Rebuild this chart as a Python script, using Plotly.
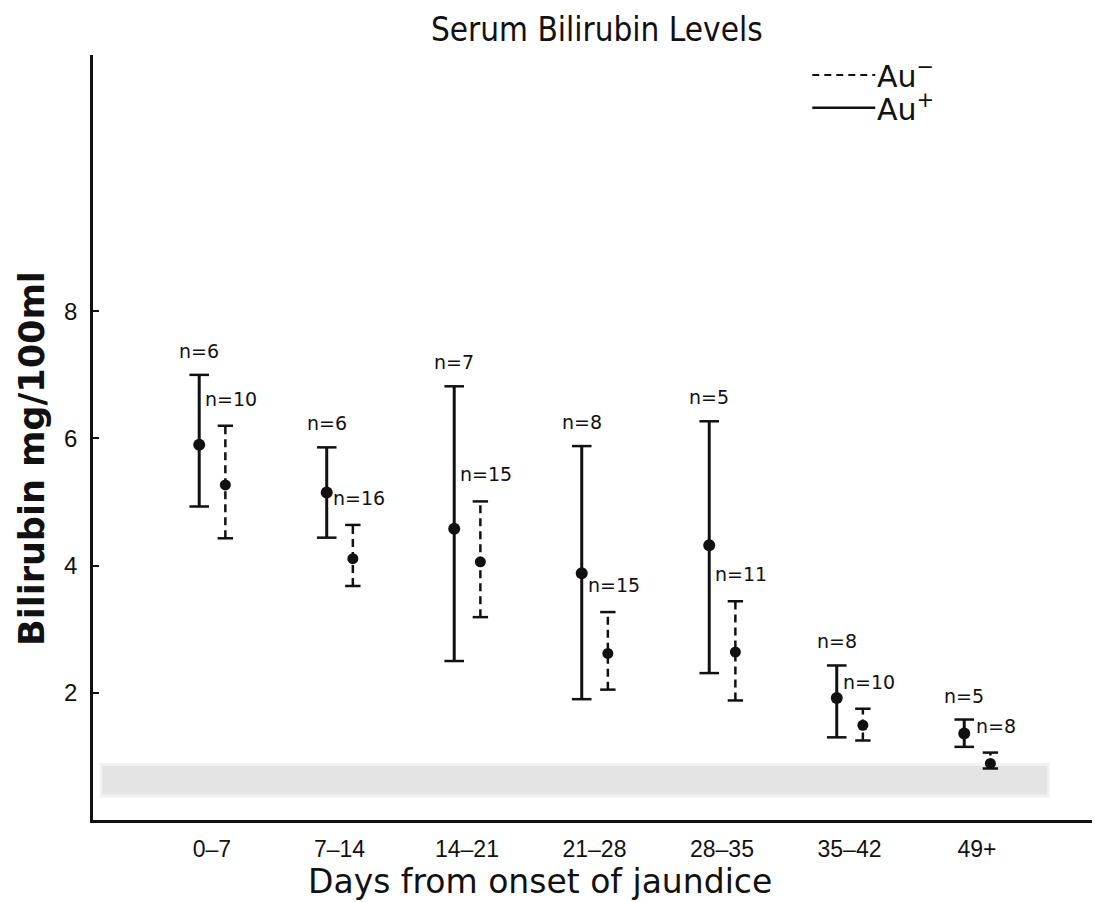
import plotly.graph_objects as go

# ---- data ----
categories = ["0–7", "7–14", "14–21", "21–28", "28–35", "35–42", "49+"]

au_pos_mean = [5.90, 5.15, 4.58, 3.88, 4.32, 1.92, 1.36]
au_pos_hi   = [7.00, 5.86, 6.82, 5.88, 6.27, 2.43, 1.58]
au_pos_lo   = [4.93, 4.44, 2.50, 1.90, 2.31, 1.30, 1.15]
au_pos_n    = [6, 6, 7, 8, 5, 8, 5]

au_neg_mean = [5.27, 4.11, 4.06, 2.62, 2.64, 1.49, 0.89]
au_neg_hi   = [6.20, 4.64, 5.01, 3.27, 3.44, 1.75, 1.06]
au_neg_lo   = [4.43, 3.68, 3.19, 2.05, 1.88, 1.25, 0.81]
au_neg_n    = [10, 16, 15, 15, 11, 10, 8]

normal_range = [0.40, 0.85]
y_ticks = [2, 4, 6, 8]

INK = "#111111"
POS_OFF = -0.10
NEG_OFF = 0.105
SANS = "DejaVu Sans, Liberation Sans, sans-serif"
HELV = "Liberation Sans, Arial, sans-serif"

idx = list(range(len(categories)))
x_pos = [i + POS_OFF for i in idx]
x_neg = [i + NEG_OFF for i in idx]


def seg(xs, lo, hi):
    X, Y = [], []
    for x, a, b in zip(xs, lo, hi):
        X += [x, x, None]
        Y += [a, b, None]
    return X, Y


fig = go.Figure()

# normal range band
fig.add_shape(type="rect", xref="x", yref="y", x0=-0.88, x1=6.57,
              y0=normal_range[0] - 0.05, y1=normal_range[1] + 0.05,
              fillcolor="#f1f1f1", line_width=0, layer="below")
fig.add_shape(type="rect", xref="x", yref="y", x0=-0.86, x1=6.55,
              y0=normal_range[0], y1=normal_range[1],
              fillcolor="#e4e4e4", line_width=0, layer="below")

# Au+ (solid)
X, Y = seg(x_pos, au_pos_lo, au_pos_hi)
fig.add_trace(go.Scatter(x=X, y=Y, mode="lines",
                         line=dict(color=INK, width=3), hoverinfo="skip"))
fig.add_trace(go.Scatter(x=x_pos + x_pos, y=au_pos_hi + au_pos_lo, mode="markers",
                         marker=dict(symbol="line-ew", size=14,
                                     line=dict(color=INK, width=2.5)),
                         hoverinfo="skip"))
fig.add_trace(go.Scatter(x=x_pos, y=au_pos_mean, mode="markers",
                         marker=dict(symbol="circle", size=12, color=INK)))

# Au- (dashed)
X, Y = seg(x_neg, au_neg_lo, au_neg_hi)
fig.add_trace(go.Scatter(x=X, y=Y, mode="lines",
                         line=dict(color=INK, width=2.5, dash="8px,5px"),
                         hoverinfo="skip"))
fig.add_trace(go.Scatter(x=x_neg + x_neg, y=au_neg_hi + au_neg_lo, mode="markers",
                         marker=dict(symbol="line-ew", size=11,
                                     line=dict(color=INK, width=2.5)),
                         hoverinfo="skip"))
fig.add_trace(go.Scatter(x=x_neg, y=au_neg_mean, mode="markers",
                         marker=dict(symbol="circle", size=11, color=INK)))

# n labels
NFONT = dict(family=SANS, size=19, color=INK)
for x, y, n in zip(x_pos, au_pos_hi, au_pos_n):
    fig.add_annotation(x=x, y=y, text=f"n={n}", showarrow=False,
                       xanchor="center", yanchor="bottom", yshift=11, font=NFONT)
for x, y, n in zip(x_neg, au_neg_hi, au_neg_n):
    fig.add_annotation(x=x, y=y, text=f"n={n}", showarrow=False,
                       xanchor="center", yanchor="bottom", xshift=6, yshift=14,
                       font=NFONT)

# legend (hand drawn like the original)
fig.add_shape(type="line", xref="paper", yref="paper", x0=0.72, x1=0.783,
              y0=0.974, y1=0.974, line=dict(color=INK, width=2, dash="7px,5px"))
fig.add_shape(type="line", xref="paper", yref="paper", x0=0.72, x1=0.783,
              y0=0.931, y1=0.931, line=dict(color=INK, width=2.5))
LFONT = dict(family=SANS, size=30, color=INK)
fig.add_annotation(xref="paper", yref="paper", x=0.783, y=0.974,
                   text="Au<sup>−</sup>", showarrow=False, xanchor="left",
                   yanchor="middle", font=LFONT)
fig.add_annotation(xref="paper", yref="paper", x=0.783, y=0.931,
                   text="Au<sup>+</sup>", showarrow=False, xanchor="left",
                   yanchor="middle", font=LFONT)

# axis titles
fig.add_annotation(xref="paper", yref="paper", x=-0.061, y=0.472,
                   text="<b>Bilirubin mg/100ml</b>", textangle=-90, showarrow=False,
                   xanchor="center", yanchor="middle",
                   font=dict(family=SANS, size=35, color=INK))
fig.add_annotation(xref="paper", yref="paper", x=0.447, y=-0.081,
                   text="Days from onset of jaundice", showarrow=False,
                   xanchor="center", yanchor="middle",
                   font=dict(family=SANS, size=33, color=INK))

fig.update_layout(
    width=1095, height=902, autosize=False,
    margin=dict(l=93, r=3, t=55, b=82),
    paper_bgcolor="white", plot_bgcolor="white",
    showlegend=False,
    title=dict(text="Serum Bilirubin Levels", xref="container", yref="container",
               x=0.545, y=0.967, xanchor="center", yanchor="middle",
               font=dict(family="DejaVu Sans Condensed, Liberation Sans Narrow, sans-serif",
                         size=33, color=INK)),
    xaxis=dict(range=[-0.933, 6.902], tickmode="array", tickvals=idx,
               ticktext=categories, showgrid=False, zeroline=False,
               showline=True, linecolor=INK, linewidth=3, ticks="",
               ticklabelstandoff=6,
               tickfont=dict(family=HELV, size=23, color=INK)),
    yaxis=dict(range=[0, 12.03], tickmode="array", tickvals=y_ticks,
               showgrid=False, zeroline=False, showline=True, linecolor=INK,
               linewidth=2.5, ticks="inside", ticklen=6, tickwidth=1.5, tickcolor=INK,
               ticklabelstandoff=8,
               tickfont=dict(family=HELV, size=24, color=INK)),
)

fig.write_html("out.html")
